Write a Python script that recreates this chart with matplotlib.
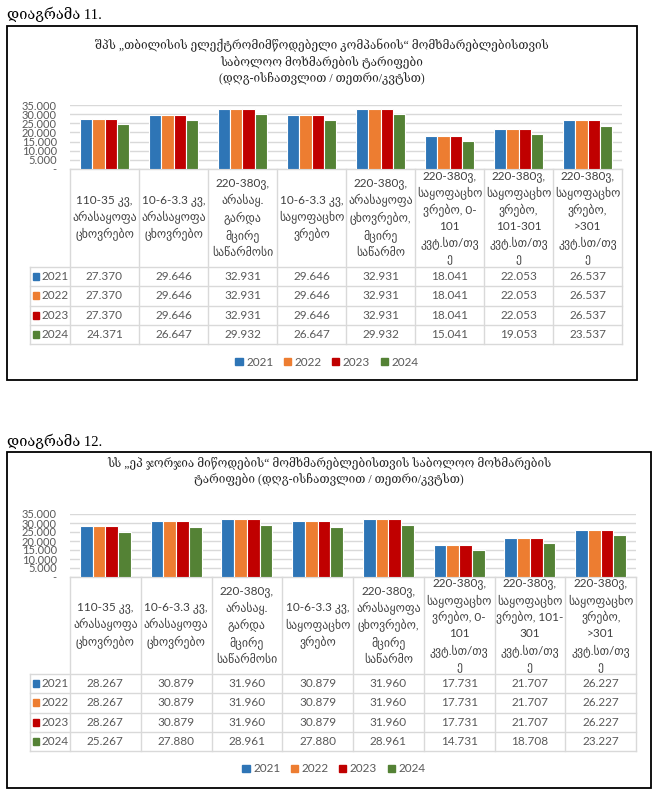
import matplotlib
matplotlib.use('Agg')
import matplotlib.pyplot as plt
from matplotlib.patches import Rectangle, Patch
from matplotlib.transforms import blended_transform_factory
import numpy as np

W, H = 657, 797

years = ['2021', '2022', '2023', '2024']
colors = ['#2E75B6', '#ED7D31', '#C00000', '#548235']

# column labels (line breaks as in the picture)
cats_11 = ['110-35 კვ,\nარასაყოფა\nცხოვრებო',
           '10-6-3.3 კვ,\nარასაყოფა\nცხოვრებო',
           '220-380ვ,\nარასაყ.\nგარდა\nმცირე\nსაწარმოსი',
           '10-6-3.3 კვ,\nსაყოფაცხო\nვრებო',
           '220-380ვ,\nარასაყოფა\nცხოვრებო,\nმცირე\nსაწარმო',
           '220-380ვ,\nსაყოფაცხო\nვრებო, 0-\n101\nკვტ.სთ/თვ\nე',
           '220-380ვ,\nსაყოფაცხო\nვრებო,\n101-301\nკვტ.სთ/თვ\nე',
           '220-380ვ,\nსაყოფაცხო\nვრებო,\n>301\nკვტ.სთ/თვ\nე']
cats_12 = cats_11[:6] + ['220-380ვ,\nსაყოფაცხო\nვრებო, 101-\n301\nკვტ.სთ/თვ\nე',
                         cats_11[7]]

title_11 = ['შპს „თბილისის ელექტრომიმწოდებელი კომპანიის“ მომხმარებლებისთვის',
            'საბოლოო მოხმარების ტარიფები',
            '(დღგ-ისჩათვლით / თეთრი/კვტსთ)']
title_12 = ['სს „ეპ ჯორჯია მიწოდების“ მომხმარებლებისთვის საბოლოო მოხმარების',
            'ტარიფები (დღგ-ისჩათვლით / თეთრი/კვტსთ)']

# diagram 11 - tbilisi
tb_2021 = [27.370, 29.646, 32.931, 29.646, 32.931, 18.041, 22.053, 26.537]
tb_2022 = [27.370, 29.646, 32.931, 29.646, 32.931, 18.041, 22.053, 26.537]
tb_2023 = [27.370, 29.646, 32.931, 29.646, 32.931, 18.041, 22.053, 26.537]
tb_2024 = [24.371, 26.647, 29.932, 26.647, 29.932, 15.041, 19.053, 23.537]

# diagram 12 - ep georgia
ep_2021 = [28.267, 30.879, 31.960, 30.879, 31.960, 17.731, 21.707, 26.227]
ep_2022 = [28.267, 30.879, 31.960, 30.879, 31.960, 17.731, 21.707, 26.227]
ep_2023 = [28.267, 30.879, 31.960, 30.879, 31.960, 17.731, 21.707, 26.227]
ep_2024 = [25.267, 27.880, 28.961, 27.880, 28.961, 14.731, 18.708, 23.227]

SERIF = ['Liberation Serif', 'DejaVu Serif']
SANS = ['Lato', 'DejaVu Sans']
GRAY = '#595959'
LINE = '#D9D9D9'

fig = plt.figure(figsize=(W / 100, H / 100), dpi=100)
ov = fig.add_axes([0, 0, 1, 1])
ov.set_xlim(0, W)
ov.set_ylim(H, 0)
ov.axis('off')


def draw_chart(caption, cap_y, box, titles, title_y, cats, series,
               x0, x1, y_top, y_zero, head_bot, row_h, leg_x, leg_y):
    ov.text(7, cap_y, caption, fontsize=10.5, family=SERIF, va='center', ha='left')
    bx0, by0, bx1, by1 = box
    ov.add_patch(Rectangle((bx0, by0), bx1 - bx0, by1 - by0, fill=False,
                           ec='black', lw=1.3))
    for i, t in enumerate(titles):
        ov.text((bx0 + bx1) / 2, title_y + i * 16.5, t, fontsize=8.5, family=SERIF,
                ha='center', va='center', color='#262626')

    ax = fig.add_axes([x0 / W, 1 - y_zero / H, (x1 - x0) / W, (y_zero - y_top) / H])
    n = len(cats)
    idx = np.arange(n)
    bw = 0.18
    for k, vals in enumerate(series):
        ax.bar(idx + (k - 1.5) * bw, vals, bw, color=colors[k], edgecolor='white',
               linewidth=0.8, zorder=3)
    ax.set_xlim(-0.5, n - 0.5)
    ax.set_ylim(0, 35)
    ticks = np.arange(0, 36, 5)
    ax.set_yticks(ticks)
    ax.set_yticklabels(['-'] + [f'{t:.3f}' for t in ticks[1:]], family=SANS)
    ax.yaxis.grid(True, color=LINE, lw=1)
    ax.set_axisbelow(True)
    ax.set_xticks([])
    for s in ax.spines.values():
        s.set_visible(False)
    ax.tick_params(axis='y', length=0, pad=9.5, labelsize=8, labelcolor=GRAY)
    ax.patch.set_alpha(0)

    # data table below the bars
    tr = blended_transform_factory(ax.transData, ov.transData)
    bottom = head_bot + len(series) * row_h
    for i in range(n + 1):
        ov.plot([i - 0.5, i - 0.5], [y_zero, bottom], color=LINE, lw=1, transform=tr)
    ov.plot([x0, x1], [y_zero, y_zero], color=LINE, lw=1)
    for j in range(len(series) + 1):
        y = head_bot + j * row_h
        ov.plot([30, x1], [y, y], color=LINE, lw=1)
    ov.plot([30, 30], [head_bot, bottom], color=LINE, lw=1)

    for i, c in enumerate(cats):
        ov.text(i, (y_zero + head_bot) / 2, c, transform=tr, ha='center', va='center',
                multialignment='center', fontsize=8.5, family=SANS, color='#404040',
                linespacing=1.45)
    for k, vals in enumerate(series):
        y = head_bot + (k + 0.5) * row_h
        ov.add_patch(Rectangle((33, y - 3.5), 6, 7, color=colors[k]))
        ov.text(41, y, years[k], ha='left', va='center', fontsize=8.5, family=SANS,
                color=GRAY)
        for i, v in enumerate(vals):
            ov.text(i, y, f'{v:.3f}', transform=tr, ha='center', va='center',
                    fontsize=8.5, family=SANS, color=GRAY)

    handles = [Patch(color=colors[k], label=years[k]) for k in range(len(series))]
    fig.legend(handles=handles, loc='center', bbox_to_anchor=(leg_x / W, 1 - leg_y / H),
               ncol=4, frameon=False, handlelength=0.6, handleheight=0.6,
               handletextpad=0.3, columnspacing=0.9,
               prop={'family': SANS, 'size': 8.5}, labelcolor=GRAY)


draw_chart('დიაგრამა 11.', 14, (7, 26, 637, 380), title_11, 45, cats_11,
           [tb_2021, tb_2022, tb_2023, tb_2024],
           70, 622, 105, 169, 267, 19.3, 327, 362)
draw_chart('დიაგრამა 12.', 441, (7, 452, 651, 788), title_12, 463, cats_12,
           [ep_2021, ep_2022, ep_2023, ep_2024],
           70, 636, 514, 577, 674, 19.3, 334, 769)

fig.savefig('out.png', dpi=100)
